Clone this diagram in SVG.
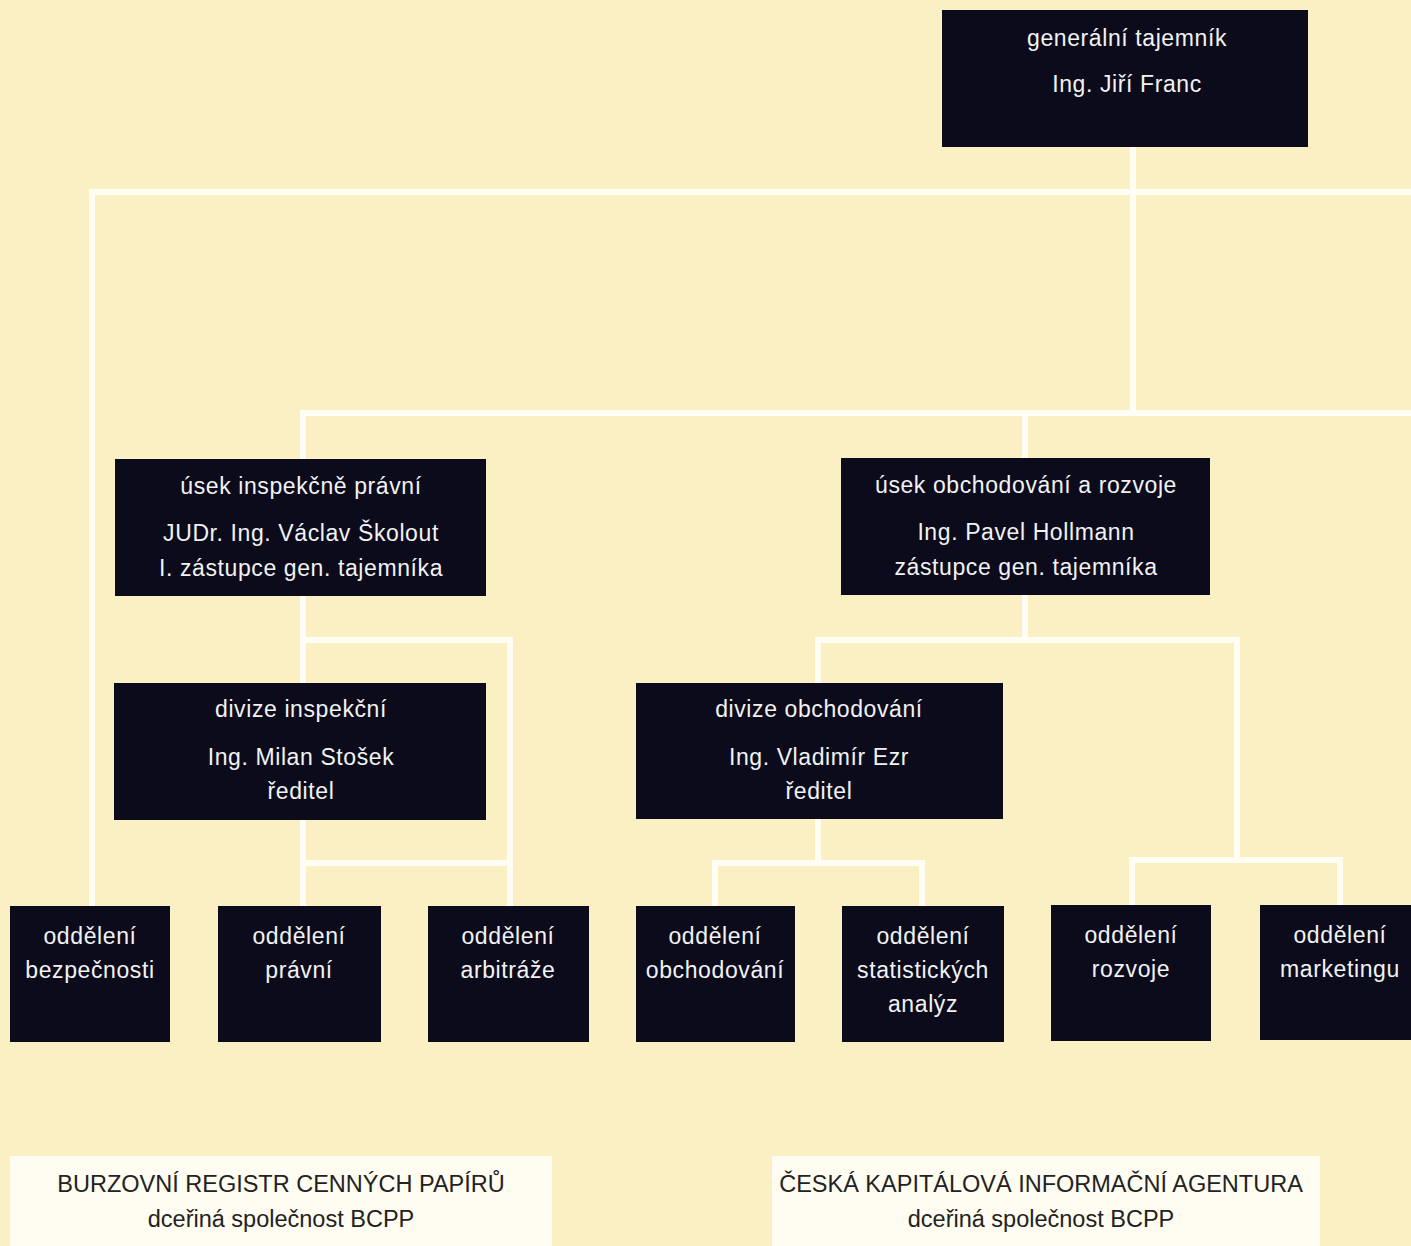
<svg xmlns="http://www.w3.org/2000/svg" width="1411" height="1246" viewBox="0 0 1411 1246">
<style>
.box{fill:#0b0b1c}
.t{fill:#f2f2f2;font-family:"Liberation Sans",Arial,sans-serif;font-size:23px;letter-spacing:0.6px;text-anchor:middle}
.w{fill:#fffdf2}
.s{fill:#222;font-family:"Liberation Sans",Arial,sans-serif;font-size:23.5px;text-anchor:middle}
.c{fill:none;stroke:#fffdf4;stroke-width:6;stroke-linecap:square}
</style>
<rect width="1411" height="1246" fill="#fbf0c3"/>
<g id="connectors" class="c">
<path d="M1133 147V413M92 192H1411M92 192V906M303 413H1411M303 413V459M1025 413V458"/>
<path d="M303 596V906M303 640H510V906M303 863H510"/>
<path d="M1025 595V640M818 640H1237M818 640V683M1237 640V860H1132V906M1237 860H1340V906"/>
<path d="M818 819V863M715 863H922M715 863V906M922 863V906"/>
</g>
<g id="n-gen"><rect class="box" x="942" y="10" width="366" height="137"/><text class="t" x="1127" y="46">generální tajemník</text><text class="t" x="1127" y="92">Ing. Jiří Franc</text></g>
<g id="n-usek1"><rect class="box" x="115" y="459" width="371" height="137"/><text class="t" x="301" y="494">úsek inspekčně právní</text><text class="t" x="301" y="541">JUDr. Ing. Václav Školout</text><text class="t" x="301" y="576">I. zástupce gen. tajemníka</text></g>
<g id="n-usek2"><rect class="box" x="841" y="458" width="369" height="137"/><text class="t" x="1026" y="493">úsek obchodování a rozvoje</text><text class="t" x="1026" y="540">Ing. Pavel Hollmann</text><text class="t" x="1026" y="575">zástupce gen. tajemníka</text></g>
<g id="n-div1"><rect class="box" x="114" y="683" width="372" height="137"/><text class="t" x="301" y="717">divize inspekční</text><text class="t" x="301" y="765">Ing. Milan Stošek</text><text class="t" x="301" y="799">ředitel</text></g>
<g id="n-div2"><rect class="box" x="636" y="683" width="367" height="136"/><text class="t" x="819" y="717">divize obchodování</text><text class="t" x="819" y="765">Ing. Vladimír Ezr</text><text class="t" x="819" y="799">ředitel</text></g>
<g id="n-bezp"><rect class="box" x="10" y="906" width="160" height="136"/><text class="t" x="90" y="944">oddělení</text><text class="t" x="90" y="978">bezpečnosti</text></g>
<g id="n-prav"><rect class="box" x="218" y="906" width="163" height="136"/><text class="t" x="299" y="944">oddělení</text><text class="t" x="299" y="978">právní</text></g>
<g id="n-arb"><rect class="box" x="428" y="906" width="161" height="136"/><text class="t" x="508" y="944">oddělení</text><text class="t" x="508" y="978">arbitráže</text></g>
<g id="n-obch"><rect class="box" x="636" y="906" width="159" height="136"/><text class="t" x="715" y="944">oddělení</text><text class="t" x="715" y="978">obchodování</text></g>
<g id="n-stat"><rect class="box" x="842" y="906" width="162" height="136"/><text class="t" x="923" y="944">oddělení</text><text class="t" x="923" y="978">statistických</text><text class="t" x="923" y="1012">analýz</text></g>
<g id="n-rozv"><rect class="box" x="1051" y="905" width="160" height="136"/><text class="t" x="1131" y="943">oddělení</text><text class="t" x="1131" y="977">rozvoje</text></g>
<g id="n-mark"><rect class="box" x="1260" y="905" width="151" height="135"/><text class="t" x="1340" y="943">oddělení</text><text class="t" x="1340" y="977">marketingu</text></g>
<g id="n-brcp"><rect class="w" x="10" y="1156" width="542" height="90"/><text class="s" x="281" y="1192">BURZOVNÍ REGISTR CENNÝCH PAPÍRŮ</text><text class="s" x="281" y="1227">dceřiná společnost BCPP</text></g>
<g id="n-ckia"><rect class="w" x="772" y="1156" width="548" height="90"/><text class="s" x="1041" y="1192">ČESKÁ KAPITÁLOVÁ INFORMAČNÍ AGENTURA</text><text class="s" x="1041" y="1227">dceřiná společnost BCPP</text></g>
</svg>
